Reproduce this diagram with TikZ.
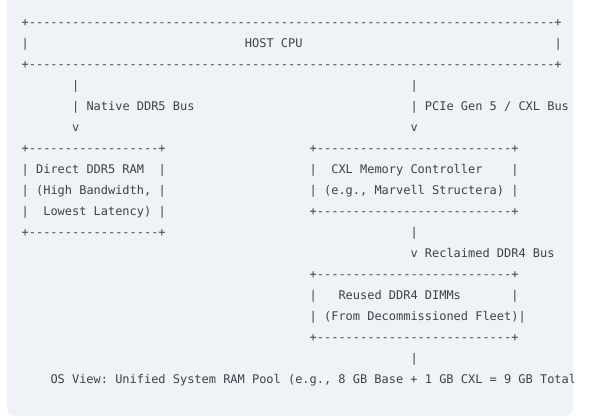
\documentclass[tikz,border=0pt]{standalone}
\usepackage{fontspec}
\setmonofont{DejaVu Sans Mono}
\definecolor{panel}{HTML}{EFF2F6}
\definecolor{txt}{HTML}{3D434A}
\tikzset{
  asc/.style={inner sep=0pt, outer sep=0pt, anchor=base west, text=txt,
    font=\ttfamily\fontsize{11.96}{14}\selectfont}
}
\begin{document}
\begin{tikzpicture}
\useasboundingbox (0,0) rectangle (600pt,-420pt);
\fill[white] (0,0) rectangle (600pt,-420pt);
\fill[panel, rounded corners=8pt] (7pt,20pt) rectangle (573pt,-416pt);
\begin{scope}
\clip (0,0) rectangle (573pt,-420pt);
\begin{scope}[x=7.2pt, y=-21pt, shift={(21.7pt,-5.5pt)}]
% HOST CPU box
\node[asc] (hosttop) at (0,1) {+-------------------------------------------------------------------------+};
\node[asc] (hostl) at (0,2) {|};
\node[asc] (host) at (31,2) {HOST CPU};
\node[asc] (hostr) at (74,2) {|};
\node[asc] (hostbot) at (0,3) {+-------------------------------------------------------------------------+};
% buses from host
\node[asc] (la1) at (7,4) {|};
\node[asc] (ra1) at (54,4) {|};
\node[asc] (la2) at (7,5) {| Native DDR5 Bus};
\node[asc] (ra2) at (54,5) {| PCIe Gen 5 / CXL Bus};
\node[asc] (la3) at (7,6) {v};
\node[asc] (ra3) at (54,6) {v};
% Direct DDR5 RAM box
\node[asc] (ddrtop) at (0,7) {+------------------+};
\node[asc] (ddrl1) at (0,8) {|};
\node[asc] (ddr1) at (2,8) {Direct DDR5 RAM};
\node[asc] (ddrr1) at (19,8) {|};
\node[asc] (ddrl2) at (0,9) {|};
\node[asc] (ddr2) at (2,9) {(High Bandwidth,};
\node[asc] (ddrr2) at (19,9) {|};
\node[asc] (ddrl3) at (0,10) {|};
\node[asc] (ddr3) at (3,10) {Lowest Latency)};
\node[asc] (ddrr3) at (19,10) {|};
\node[asc] (ddrbot) at (0,11) {+------------------+};
% CXL Memory Controller box
\node[asc] (cxltop) at (40,7) {+---------------------------+};
\node[asc] (cxll1) at (40,8) {|};
\node[asc] (cxl1) at (43,8) {CXL Memory Controller};
\node[asc] (cxlr1) at (68,8) {|};
\node[asc] (cxll2) at (40,9) {|};
\node[asc] (cxl2) at (42,9) {(e.g., Marvell Structera)};
\node[asc] (cxlr2) at (68,9) {|};
\node[asc] (cxlbot) at (40,10) {+---------------------------+};
% DDR4 bus
\node[asc] (da1) at (54,11) {|};
\node[asc] (da2) at (54,12) {v Reclaimed DDR4 Bus};
% Reused DDR4 DIMMs box
\node[asc] (dimtop) at (40,13) {+---------------------------+};
\node[asc] (diml1) at (40,14) {|};
\node[asc] (dim1) at (44,14) {Reused DDR4 DIMMs};
\node[asc] (dimr1) at (68,14) {|};
\node[asc] (diml2) at (40,15) {|};
\node[asc] (dim2) at (42,15) {(From Decommissioned Fleet)|};
\node[asc] (dimbot) at (40,16) {+---------------------------+};
\node[asc] (oa1) at (54,17) {|};
% OS view
\node[asc] (osview) at (4,18) {OS View: Unified System RAM Pool (e.g., 8 GB Base + 1 GB CXL = 9 GB Total};
\end{scope}
\end{scope}
\end{tikzpicture}
\end{document}
